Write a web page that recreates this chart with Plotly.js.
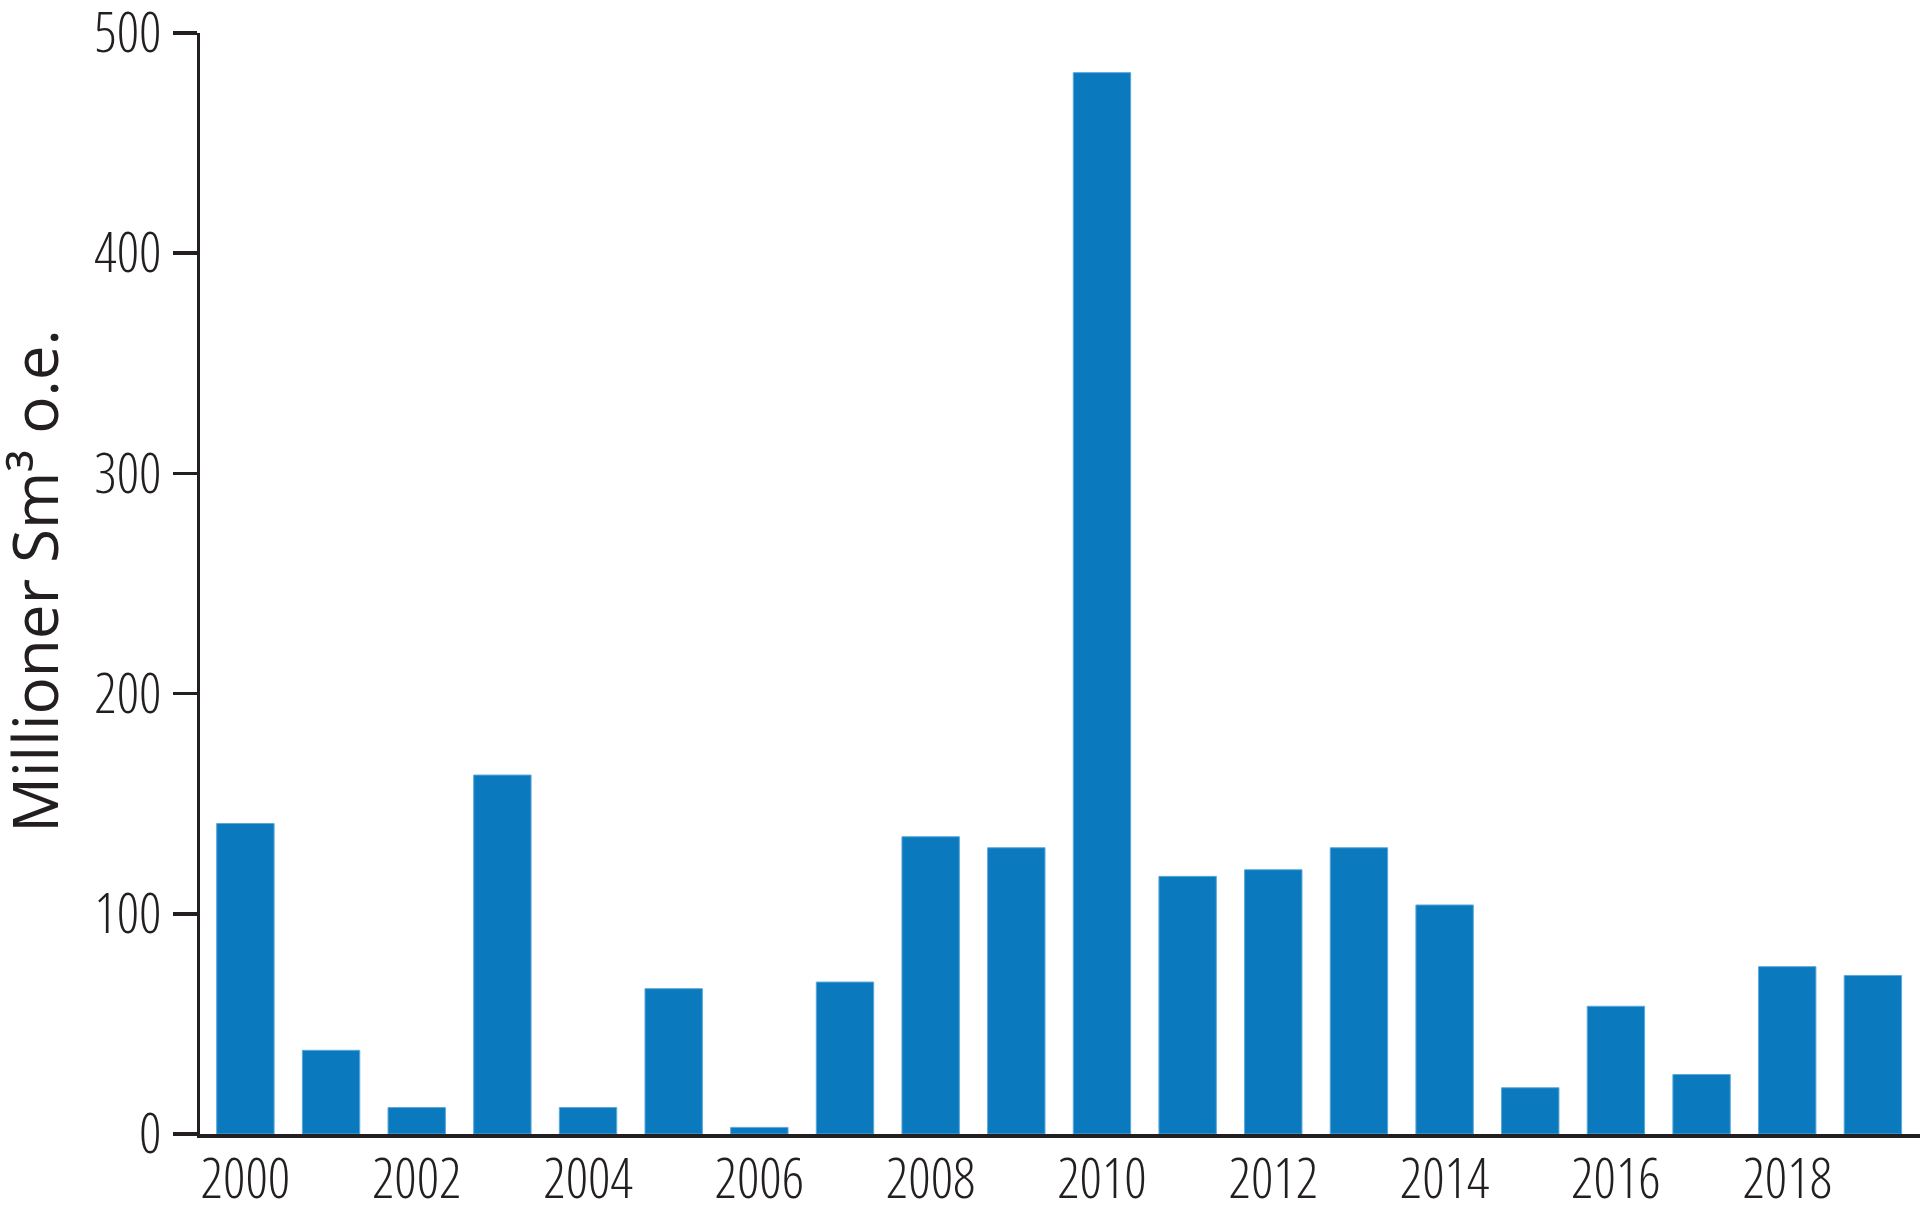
<!DOCTYPE html>
<html>
<head>
<meta charset="utf-8">
<script src="https://cdn.plot.ly/plotly-3.0.1.min.js"></script>
<style>
html,body{margin:0;padding:0;background:#fff;}
#chart{width:1920px;height:1215px;}
.xtick text, .ytick text { font-stretch: 75% !important; font-weight: 300 !important; }
</style>
</head>
<body>
<div id="chart"></div>
<script>
const years = [2000,2001,2002,2003,2004,2005,2006,2007,2008,2009,2010,2011,2012,2013,2014,2015,2016,2017,2018,2019];
const values = [141,38,12,163,12,66,3,69,135,130,482,117,120,130,104,21,58,27,76,72];
const xTickVals = [2000,2002,2004,2006,2008,2010,2012,2014,2016,2018];
const xTickText = ['2000','2002','2004','2006','2008','2010','2012','2014','2016','2018'];
const yTickVals = [0,100,200,300,400,500];
const yTitle = 'Millioner Sm³ o.e.';

const ink = '#231f20';
const tickFont = {family: '"Open Sans", "Noto Sans", sans-serif', size: 55, color: ink, weight: 300};

Plotly.newPlot('chart', [{
  type: 'bar',
  x: years,
  y: values,
  width: 0.67,
  marker: {color: '#0a79bd', line: {color: '#5aa8da', width: 1}},
  hoverinfo: 'x+y'
}], {
  width: 1920, height: 1215,
  margin: {l: 200, r: 0, t: 33, b: 81},
  paper_bgcolor: '#ffffff', plot_bgcolor: '#ffffff',
  showlegend: false,
  xaxis: {
    range: [1999.47, 2019.55],
    tickmode: 'array', tickvals: xTickVals, ticktext: xTickText,
    ticks: '', showgrid: false, zeroline: false,
    showline: true, linecolor: ink, linewidth: 4,
    tickfont: tickFont, ticklabelstandoff: -6, ticklabeloverflow: 'allow'
  },
  yaxis: {
    range: [0, 500],
    tickmode: 'array', tickvals: yTickVals,
    ticks: 'outside', ticklen: 24, tickwidth: 3.5, tickcolor: ink,
    showgrid: false, zeroline: false,
    showline: true, linecolor: ink, linewidth: 3.5,
    tickfont: tickFont, ticklabelstandoff: 0, ticklabeloverflow: 'allow',
    automargin: false
  },
  annotations: [{
    text: yTitle,
    xref: 'paper', yref: 'paper',
    x: -0.0962, y: 0.502,
    xanchor: 'center', yanchor: 'middle',
    textangle: -90, showarrow: false,
    font: {family: '"Open Sans", "Noto Sans", sans-serif', size: 62, color: ink}
  }]
}, {displayModeBar: false, staticPlot: true});
</script>
</body>
</html>
